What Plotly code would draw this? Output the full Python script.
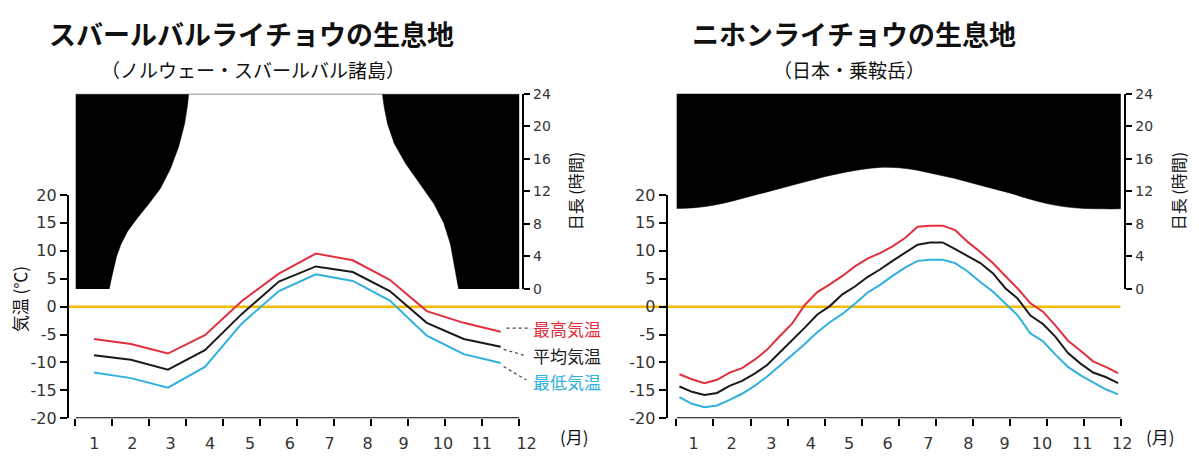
import plotly.graph_objects as go

# ---------------- data ----------------
months = ["1", "2", "3", "4", "5", "6", "7", "8", "9", "10", "11", "12"]

# Svalbard: monthly means, plotted at month centres
sv_month_x = [0.5, 1.5, 2.5, 3.5, 4.5, 5.5, 6.5, 7.5, 8.5, 9.5, 10.5, 11.5]
sv_tmax = [-5.8, -6.7, -8.4, -5.1, 1.0, 5.9, 9.5, 8.3, 4.8, -0.8, -2.9, -4.5]
sv_tmean = [-8.7, -9.5, -11.3, -7.8, -1.3, 4.5, 7.2, 6.2, 2.8, -2.9, -5.8, -7.2]
sv_tmin = [-11.8, -12.8, -14.5, -10.8, -3.0, 2.8, 5.8, 4.6, 1.1, -5.2, -8.5, -10.1]

# Svalbard day length (hours) along the month axis
sv_day_x = [0, 0.913, 0.958, 1.02, 1.11, 1.23, 1.41, 1.67, 1.99, 2.30, 2.57,
            2.79, 2.95, 3.03, 3.06,
            8.30, 8.35, 8.44, 8.62, 8.93, 9.33, 9.69, 9.96, 10.14, 10.24,
            10.32, 10.36, 12]
sv_day_h = [0, 0, 1.0, 2.4, 4.0, 5.5, 7.1, 8.7, 10.5, 12.4, 14.8,
            17.5, 20.3, 22.6, 24,
            24, 22.3, 20.3, 17.9, 15.4, 12.8, 10.5, 8.1, 5.5, 3.0,
            1.0, 0, 0]

# Mt. Norikura: 10-day (jun) values, 36 per year
jp_n = 36
jp_x = [0.08 + k * (11.93 - 0.08) / (jp_n - 1) for k in range(jp_n)]
jp_tmax = [-12.1, -13.0, -13.7, -13.1, -11.8, -11.0, -9.5, -7.7, -5.3, -3.0,
           0.3, 2.6, 4.0, 5.5, 7.2, 8.6, 9.6, 10.8, 12.3, 14.3, 14.5, 14.5,
           13.7, 11.6, 9.8, 7.8, 5.5, 3.2, 0.6, -0.9, -3.4, -6.1, -7.9, -9.8,
           -10.8, -11.9]
jp_tmean = [-14.3, -15.25, -15.8, -15.45, -14.2, -13.3, -12.0, -10.45, -8.2,
            -6.0, -3.75, -1.4, 0.1, 2.2, 3.6, 5.3, 6.65, 8.2, 9.6, 11.1, 11.5,
            11.5, 10.3, 9.0, 7.8, 6.0, 3.3, 1.4, -1.6, -3.1, -5.4, -8.3, -10.2,
            -11.8, -12.6, -13.7]
jp_tmin = [-16.2, -17.4, -18.0, -17.7, -16.7, -15.6, -14.2, -12.5, -10.6, -8.7,
           -6.7, -4.6, -2.8, -1.3, 0.5, 2.5, 3.9, 5.5, 7.0, 8.2, 8.4, 8.4, 7.8,
           6.3, 4.4, 2.7, 0.5, -1.6, -4.8, -6.2, -8.6, -10.8, -12.3, -13.6,
           -14.8, -15.7]

# Norikura day length (hours)
jp_day_x = [0, 0.5, 1, 1.5, 2, 2.5, 3, 3.5, 4, 4.5, 5, 5.5, 6, 6.5, 7, 7.5,
            8, 8.5, 9, 9.5, 10, 10.5, 11, 11.5, 12]
jp_day_h = [9.9, 10.0, 10.3, 10.8, 11.4, 12.0, 12.6, 13.2, 13.8, 14.3, 14.7,
            14.95, 14.9, 14.6, 14.1, 13.6, 13.0, 12.4, 11.8, 11.1, 10.5, 10.1,
            9.9, 9.85, 9.85]

# month label positions (slightly uneven hand layout)
sv_label_pos = [0.51, 1.54, 2.57, 3.64, 4.72, 5.8, 6.87, 7.9, 8.87, 9.94, 10.99, 12.2]
jp_label_pos = [0.46, 1.49, 2.56, 3.63, 4.66, 5.7, 6.8, 7.88, 8.86, 9.87, 10.96, 12.04]

temp_ticks = [-20, -15, -10, -5, 0, 5, 10, 15, 20]
temp_ticktext = ["-20", "-15", "-10", "-5", "0", "5", "10", "15", "20"]
day_ticks = [0, 4, 8, 12, 16, 20, 24]

# ---------------- styling ----------------
W, H = 1199, 459
RED = "#E0303E"
BLK = "#1a1a1a"
BLU = "#2FB0DF"
ORANGE = "#F3BC00"
JP_FONT = "Noto Sans CJK JP"
NUM_FONT = "DejaVu Sans"


def px(x):
    return x / W


def py(y):
    return 1 - y / H


fig = go.Figure()

# ---- day length fills (black = hours without daylight) ----
for xa, ya, dx, dh, topcol, shp in [
        ("x3", "y3", sv_day_x, sv_day_h, "#9a9a9a", "linear"),
        ("x4", "y4", jp_day_x, jp_day_h, "#000000", "spline")]:
    fig.add_trace(go.Scatter(x=[0, 12], y=[24, 24], mode="lines",
                             line=dict(color=topcol, width=1),
                             xaxis=xa, yaxis=ya, showlegend=False,
                             hoverinfo="skip"))
    fig.add_trace(go.Scatter(x=dx, y=dh, mode="lines", fill="tonexty",
                             fillcolor="#000000",
                             line=dict(color="#000000", width=0.5, shape=shp),
                             xaxis=xa, yaxis=ya, showlegend=False,
                             hoverinfo="skip"))

# ---- temperature lines ----
for xs, series, xa, ya in [
    (sv_month_x, [(sv_tmax, RED), (sv_tmean, BLK), (sv_tmin, BLU)], "x", "y"),
    (jp_x, [(jp_tmax, RED), (jp_tmean, BLK), (jp_tmin, BLU)], "x2", "y2"),
]:
    for vals, col in series:
        fig.add_trace(go.Scatter(x=xs, y=vals, mode="lines",
                                 line=dict(color=col, width=2),
                                 xaxis=xa, yaxis=ya, showlegend=False,
                                 hoverinfo="skip"))

# ---------------- axes ----------------
tick_font = dict(family=NUM_FONT, size=16, color="#333333")
day_font = dict(family=NUM_FONT, size=14, color="#333333")

sv_x0, sv_ppm = 76, (522.7 - 76) / 12
jp_x0, jp_ppm = 681, (1128.3 - 681) / 12
xr = [0, 12.25]
sv_dom = [px(sv_x0), px(sv_x0 + 12.25 * sv_ppm)]
jp_dom = [px(jp_x0), px(jp_x0 + 12.25 * jp_ppm)]
temp_dom = [py(427), py(194)]
day_dom = [py(292), py(88.5)]


def month_axis(domain, anchor, labels_pos):
    return dict(domain=domain, range=xr, anchor=anchor, showgrid=False,
                zeroline=False, showline=False,
                tickmode="array", tickvals=labels_pos, ticktext=months,
                ticks="outside", ticklen=10, tickcolor="rgba(0,0,0,0)",
                tickfont=tick_font,
                minor=dict(tickmode="array", tickvals=list(range(13)),
                           ticks="outside", ticklen=7, tickwidth=2,
                           tickcolor="black", showgrid=False))


def temp_axis(pos):
    return dict(domain=temp_dom, range=[-20, 20], anchor="free", position=pos,
                showgrid=False, zeroline=False, showline=True, linewidth=2,
                linecolor="black", tickmode="array", tickvals=temp_ticks,
                ticktext=temp_ticktext,
                ticks="outside", ticklen=7, tickwidth=2, tickcolor="black",
                tickfont=tick_font)


def hidden_x(domain, anchor):
    return dict(domain=domain, range=xr, anchor=anchor, visible=False)


def day_axis(pos):
    return dict(domain=day_dom, range=[0, 24], anchor="free", position=pos,
                side="right", showgrid=False, zeroline=False, showline=True,
                linewidth=2, linecolor="black", tickmode="array",
                tickvals=day_ticks, ticks="outside", ticklen=6, tickwidth=2,
                tickcolor="black", tickfont=day_font)


fig.update_layout(
    width=W, height=H, margin=dict(l=0, r=0, t=0, b=0),
    paper_bgcolor="white", plot_bgcolor="rgba(0,0,0,0)",
    xaxis=month_axis(sv_dom, "y", sv_label_pos),
    yaxis=temp_axis(px(68.3)),
    xaxis2=month_axis(jp_dom, "y2", jp_label_pos),
    yaxis2=temp_axis(px(671)),
    xaxis3=hidden_x(sv_dom, "y3"),
    yaxis3=day_axis(px(526.7)),
    xaxis4=hidden_x(jp_dom, "y4"),
    yaxis4=day_axis(px(1133)),
)

shapes = []
# month axis lines
for xa, ya in [("x", "y"), ("x2", "y2")]:
    shapes.append(dict(type="line", xref=xa, yref=ya, x0=0, x1=12, y0=-20,
                       y1=-20, line=dict(color="black", width=2)))
# freezing line spanning both panels
shapes.append(dict(type="line", xref="paper", yref="y", x0=px(68), x1=px(1128),
                   y0=0, y1=0, line=dict(color=ORANGE, width=2.5), layer="below"))
# leader lines to the series labels
for (x0, y0, x1, y1) in [(510, 333, 532, 333), (507, 355, 530, 362),
                         (507, 373, 530, 387)]:
    shapes.append(dict(type="line", xref="paper", yref="paper", x0=px(x0),
                       x1=px(x1), y0=py(y0), y1=py(y1),
                       line=dict(color="#444444", width=1.2, dash="dot")))
fig.update_layout(shapes=shapes)

ann = []


def text(x, y, s, size, color="#111111", bold=False, angle=0, xanchor="center",
         family=JP_FONT):
    if bold:
        s = "<b>" + s + "</b>"
    ann.append(dict(x=px(x), y=py(y), xref="paper", yref="paper", text=s,
                    showarrow=False, textangle=angle, xanchor=xanchor,
                    yanchor="middle",
                    font=dict(family=family, size=size, color=color)))


text(253, 26, "スバールバルライチョウの生息地", 27, bold=True)
text(255, 63, "（ノルウェー・スバールバル諸島）", 19)
text(860, 26, "ニホンライチョウの生息地", 27, bold=True)
text(855, 63, "（日本・乗鞍岳）", 19)
text(20, 303, "気温 (℃)", 17, angle=-90)
text(579, 190, "日長 (時間)", 16, angle=-90)
text(1186, 190, "日長 (時間)", 16, angle=-90)
text(535, 333, "最高気温", 17, color=RED, xanchor="left")
text(535, 361, "平均気温", 17, color="#222222", xanchor="left")
text(535, 389, "最低気温", 17, color=BLU, xanchor="left")
text(578, 446, "(月)", 17)
text(1168, 446, "(月)", 17)
fig.update_layout(annotations=ann)

fig.write_html("out.html")
